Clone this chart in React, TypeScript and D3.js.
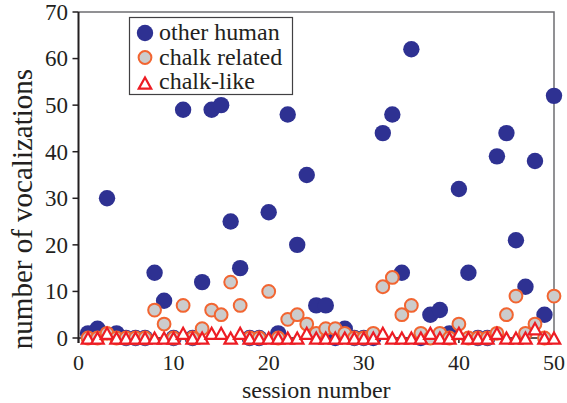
import React from "react";
import * as d3 from "d3";

// sessions 1..50
const sessions = d3.range(1, 51);
const otherHuman = [1, 2, 30, 1, 0, 0, 0, 14, 8, 0, 49, 0, 12, 49, 50, 25, 15, 0, 0, 27, 1, 48, 20, 35, 7, 7, 0, 2, 0, 0, 0, 44, 48, 14, 62, 0, 5, 6, 1, 32, 14, 0, 0, 39, 44, 21, 11, 38, 5, 52];
const chalkRelated = [0, 0, 1, 0, 0, 0, 0, 6, 3, 0, 7, 0, 2, 6, 5, 12, 7, 0, 0, 10, 0, 4, 5, 3, 1, 2, 2, 1, 0, 0, 1, 11, 13, 5, 7, 1, 0, 1, 0, 3, 0, 0, 0, 1, 5, 9, 1, 3, 0, 9];
const chalkLike = [0, 0, 1, 0, 0, 0, 0, 0, 0, 0, 1, 0, 0, 1, 1, 0, 1, 0, 0, 0, 0, 0, 0, 1, 0, 0, 0, 0, 0, 0, 0, 1, 0, 0, 0, 0, 1, 0, 0, 1, 0, 0, 0, 1, 0, 0, 0, 2, 0, 0];
const xTicks = [0, 10, 20, 30, 40, 50];
const yTicks = [0, 10, 20, 30, 40, 50, 60, 70];
const legendLabels = ["other human", "chalk related", "chalk-like"];

const blue = "#2e3192", orange = "#f26531", grey = "#cccccc", red = "#ed1c24", ink = "#231f20";
const font = '"Liberation Serif"';

const width = 567, height = 403;
const x = d3.scaleLinear().domain([0, 50]).range([78.5, 554]);
const y = d3.scaleLinear().domain([0, 70]).range([338, 12]);

function tri(cx: number, cy: number, w = 6.2, h = 5.6) {
  const p = d3.path();
  p.moveTo(cx - w, cy + h);
  p.lineTo(cx, cy - h);
  p.lineTo(cx + w, cy + h);
  p.closePath();
  return p.toString();
}

const Circle = ({ cx, cy }: { cx: number; cy: number }) => <circle cx={cx} cy={cy} r={8.2} fill={blue} />;
const Ring = ({ cx, cy }: { cx: number; cy: number }) => (
  <circle cx={cx} cy={cy} r={6.4} fill={grey} stroke={orange} strokeWidth={2} />
);
const Tri = ({ cx, cy }: { cx: number; cy: number }) => (
  <path d={tri(cx, cy)} fill="white" stroke={red} strokeWidth={2.2} />
);

export default function App() {
  const rows = [33, 57.5, 82];
  const txt = (size: number) => ({ fontFamily: font, fontSize: size, fill: ink });

  return (
    <div style={{ position: "absolute", left: 0, top: 0 }}>
      <svg width={width} height={height}>
        {/* top / right frame */}
        <path d={`M${x(0)},${y(70)}H${x(50)}V${y(0)}`} fill="none" stroke="#6d6e71" strokeWidth={1.5} />

        {/* x axis, mostly hidden under the markers */}
        <line x1={x(0)} x2={x(50)} y1={y(0)} y2={y(0)} stroke={ink} strokeWidth={1.5} />
        {xTicks.map(t => (
          <g key={t}>
            <line x1={x(t)} x2={x(t)} y1={y(0)} y2={y(0) + 5} stroke={ink} strokeWidth={1.5} />
            <text x={x(t)} y={370} textAnchor="middle" style={txt(22)}>{t}</text>
          </g>
        ))}

        {/* y axis */}
        <line x1={x(0)} x2={x(0)} y1={y(70)} y2={y(0) + 5} stroke={ink} strokeWidth={2} />
        {yTicks.map(t => (
          <g key={t}>
            <line x1={x(0) - 6} x2={x(0)} y1={y(t)} y2={y(t)} stroke={ink} strokeWidth={1.5} />
            <text x={68} y={y(t)} dy="0.34em" textAnchor="end" style={txt(23)}>{t}</text>
          </g>
        ))}

        <text x={x(25)} y={398} textAnchor="middle" style={txt(24)}>session number</text>
        <text transform="translate(32,209) rotate(-90)" textAnchor="middle" style={txt(29)}>
          number of vocalizations
        </text>

        {/* series */}
        <g>{sessions.map((s, i) => <Circle key={s} cx={x(s)} cy={y(otherHuman[i])} />)}</g>
        <g>{sessions.map((s, i) => <Ring key={s} cx={x(s)} cy={y(chalkRelated[i])} />)}</g>
        <g>{sessions.map((s, i) => <Tri key={s} cx={x(s)} cy={y(chalkLike[i])} />)}</g>

        {/* legend */}
        <rect x={129.5} y={17.5} width={163} height={77} fill="white" stroke="#414042" strokeWidth={1.2} />
        <Circle cx={145} cy={rows[0]} />
        <Ring cx={145} cy={rows[1]} />
        <Tri cx={145} cy={rows[2] + 1} />
        {legendLabels.map((l, i) => (
          <text key={l} x={159} y={rows[i] + 7} style={txt(24)}>{l}</text>
        ))}
      </svg>
    </div>
  );
}
